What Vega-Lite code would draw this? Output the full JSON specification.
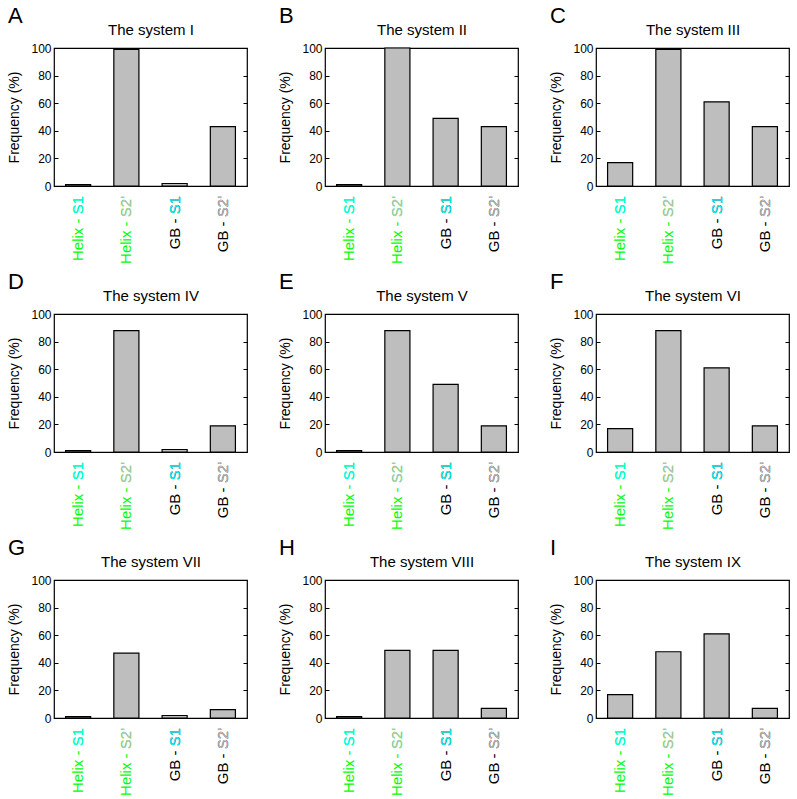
{
  "$schema": "https://vega.github.io/schema/vega-lite/v6.json",
  "padding": {"left": 7, "top": 4, "right": 0, "bottom": 0},
  "datasets": {
    "bars": [
      {"panel": "A", "cat": "Helix - S1", "grp": "Helix", "site": "S1", "value": 1},
      {"panel": "A", "cat": "Helix - S2'", "grp": "Helix", "site": "S2'", "value": 99},
      {"panel": "A", "cat": "GB - S1", "grp": "GB", "site": "S1", "value": 1.8},
      {"panel": "A", "cat": "GB - S2'", "grp": "GB", "site": "S2'", "value": 43},
      {"panel": "B", "cat": "Helix - S1", "grp": "Helix", "site": "S1", "value": 1},
      {"panel": "B", "cat": "Helix - S2'", "grp": "Helix", "site": "S2'", "value": 100},
      {"panel": "B", "cat": "GB - S1", "grp": "GB", "site": "S1", "value": 49},
      {"panel": "B", "cat": "GB - S2'", "grp": "GB", "site": "S2'", "value": 43},
      {"panel": "C", "cat": "Helix - S1", "grp": "Helix", "site": "S1", "value": 17},
      {"panel": "C", "cat": "Helix - S2'", "grp": "Helix", "site": "S2'", "value": 99},
      {"panel": "C", "cat": "GB - S1", "grp": "GB", "site": "S1", "value": 61},
      {"panel": "C", "cat": "GB - S2'", "grp": "GB", "site": "S2'", "value": 43},
      {"panel": "D", "cat": "Helix - S1", "grp": "Helix", "site": "S1", "value": 1},
      {"panel": "D", "cat": "Helix - S2'", "grp": "Helix", "site": "S2'", "value": 88},
      {"panel": "D", "cat": "GB - S1", "grp": "GB", "site": "S1", "value": 1.8},
      {"panel": "D", "cat": "GB - S2'", "grp": "GB", "site": "S2'", "value": 19},
      {"panel": "E", "cat": "Helix - S1", "grp": "Helix", "site": "S1", "value": 1},
      {"panel": "E", "cat": "Helix - S2'", "grp": "Helix", "site": "S2'", "value": 88},
      {"panel": "E", "cat": "GB - S1", "grp": "GB", "site": "S1", "value": 49},
      {"panel": "E", "cat": "GB - S2'", "grp": "GB", "site": "S2'", "value": 19},
      {"panel": "F", "cat": "Helix - S1", "grp": "Helix", "site": "S1", "value": 17},
      {"panel": "F", "cat": "Helix - S2'", "grp": "Helix", "site": "S2'", "value": 88},
      {"panel": "F", "cat": "GB - S1", "grp": "GB", "site": "S1", "value": 61},
      {"panel": "F", "cat": "GB - S2'", "grp": "GB", "site": "S2'", "value": 19},
      {"panel": "G", "cat": "Helix - S1", "grp": "Helix", "site": "S1", "value": 1},
      {"panel": "G", "cat": "Helix - S2'", "grp": "Helix", "site": "S2'", "value": 47},
      {"panel": "G", "cat": "GB - S1", "grp": "GB", "site": "S1", "value": 1.8},
      {"panel": "G", "cat": "GB - S2'", "grp": "GB", "site": "S2'", "value": 6},
      {"panel": "H", "cat": "Helix - S1", "grp": "Helix", "site": "S1", "value": 1},
      {"panel": "H", "cat": "Helix - S2'", "grp": "Helix", "site": "S2'", "value": 49},
      {"panel": "H", "cat": "GB - S1", "grp": "GB", "site": "S1", "value": 49},
      {"panel": "H", "cat": "GB - S2'", "grp": "GB", "site": "S2'", "value": 7},
      {"panel": "I", "cat": "Helix - S1", "grp": "Helix", "site": "S1", "value": 17},
      {"panel": "I", "cat": "Helix - S2'", "grp": "Helix", "site": "S2'", "value": 48},
      {"panel": "I", "cat": "GB - S1", "grp": "GB", "site": "S1", "value": 61},
      {"panel": "I", "cat": "GB - S2'", "grp": "GB", "site": "S2'", "value": 7}
    ]
  },
  "columns": 3,
  "spacing": {"row": 5, "column": 29},
  "concat": [
    {"title": "A", "width": 193, "height": 138, "data": {"name": "bars"}, "transform": [{"filter": "datum.panel == 'A'"}],
     "layer": [
      {"mark": {"type": "bar", "fill": "#bebebe", "stroke": "black", "strokeWidth": 1.2},
       "encoding": {"x": {"field": "cat", "type": "nominal", "sort": ["Helix - S1", "Helix - S2'", "GB - S1", "GB - S2'"], "scale": {"paddingInner": 0.48, "paddingOuter": 0.24}, "axis": {"orient": "top", "title": "The system I", "titleFontWeight": "normal", "labels": false, "ticks": false, "domain": false}},
                    "y": {"field": "value", "type": "quantitative", "scale": {"domain": [0, 100]}, "axis": {"title": "Frequency (%)", "values": [0, 20, 40, 60, 80, 100]}}}},
      {"mark": {"type": "text", "angle": 270, "align": "right", "baseline": "middle", "dx": -10, "fontSize": 15},
       "encoding": {"x": {"field": "cat", "type": "nominal", "sort": ["Helix - S1", "Helix - S2'", "GB - S1", "GB - S2'"], "axis": null}, "y": {"datum": 0, "axis": {"orient": "right", "labels": false, "title": null, "domain": false, "values": [0, 20, 40, 60, 80, 100]}}, "text": {"field": "cat"}, "color": {"field": "grp", "type": "nominal", "scale": {"domain": ["Helix", "GB", "S1", "S2'"], "range": ["#00ff00", "#000000", "#00ffff", "#bfbfbf"]}, "legend": null}}},
      {"mark": {"type": "text", "angle": 270, "align": "right", "baseline": "middle", "dx": -10, "fontSize": 15},
       "encoding": {"x": {"field": "cat", "type": "nominal", "sort": ["Helix - S1", "Helix - S2'", "GB - S1", "GB - S2'"], "axis": null}, "y": {"datum": 0, "axis": null}, "text": {"field": "site"}, "color": {"field": "site", "type": "nominal", "scale": {"domain": ["Helix", "GB", "S1", "S2'"], "range": ["#00ff00", "#000000", "#00ffff", "#bfbfbf"]}, "legend": null}}}
     ], "resolve": {"axis": {"x": "independent", "y": "independent"}}},
    {"title": "B", "width": 193, "height": 138, "data": {"name": "bars"}, "transform": [{"filter": "datum.panel == 'B'"}],
     "layer": [
      {"mark": {"type": "bar", "fill": "#bebebe", "stroke": "black", "strokeWidth": 1.2},
       "encoding": {"x": {"field": "cat", "type": "nominal", "sort": ["Helix - S1", "Helix - S2'", "GB - S1", "GB - S2'"], "scale": {"paddingInner": 0.48, "paddingOuter": 0.24}, "axis": {"orient": "top", "title": "The system II", "titleFontWeight": "normal", "labels": false, "ticks": false, "domain": false}},
                    "y": {"field": "value", "type": "quantitative", "scale": {"domain": [0, 100]}, "axis": {"title": "Frequency (%)", "values": [0, 20, 40, 60, 80, 100]}}}},
      {"mark": {"type": "text", "angle": 270, "align": "right", "baseline": "middle", "dx": -10, "fontSize": 15},
       "encoding": {"x": {"field": "cat", "type": "nominal", "sort": ["Helix - S1", "Helix - S2'", "GB - S1", "GB - S2'"], "axis": null}, "y": {"datum": 0, "axis": {"orient": "right", "labels": false, "title": null, "domain": false, "values": [0, 20, 40, 60, 80, 100]}}, "text": {"field": "cat"}, "color": {"field": "grp", "type": "nominal", "scale": {"domain": ["Helix", "GB", "S1", "S2'"], "range": ["#00ff00", "#000000", "#00ffff", "#bfbfbf"]}, "legend": null}}},
      {"mark": {"type": "text", "angle": 270, "align": "right", "baseline": "middle", "dx": -10, "fontSize": 15},
       "encoding": {"x": {"field": "cat", "type": "nominal", "sort": ["Helix - S1", "Helix - S2'", "GB - S1", "GB - S2'"], "axis": null}, "y": {"datum": 0, "axis": null}, "text": {"field": "site"}, "color": {"field": "site", "type": "nominal", "scale": {"domain": ["Helix", "GB", "S1", "S2'"], "range": ["#00ff00", "#000000", "#00ffff", "#bfbfbf"]}, "legend": null}}}
     ], "resolve": {"axis": {"x": "independent", "y": "independent"}}},
    {"title": "C", "width": 193, "height": 138, "data": {"name": "bars"}, "transform": [{"filter": "datum.panel == 'C'"}],
     "layer": [
      {"mark": {"type": "bar", "fill": "#bebebe", "stroke": "black", "strokeWidth": 1.2},
       "encoding": {"x": {"field": "cat", "type": "nominal", "sort": ["Helix - S1", "Helix - S2'", "GB - S1", "GB - S2'"], "scale": {"paddingInner": 0.48, "paddingOuter": 0.24}, "axis": {"orient": "top", "title": "The system III", "titleFontWeight": "normal", "labels": false, "ticks": false, "domain": false}},
                    "y": {"field": "value", "type": "quantitative", "scale": {"domain": [0, 100]}, "axis": {"title": "Frequency (%)", "values": [0, 20, 40, 60, 80, 100]}}}},
      {"mark": {"type": "text", "angle": 270, "align": "right", "baseline": "middle", "dx": -10, "fontSize": 15},
       "encoding": {"x": {"field": "cat", "type": "nominal", "sort": ["Helix - S1", "Helix - S2'", "GB - S1", "GB - S2'"], "axis": null}, "y": {"datum": 0, "axis": {"orient": "right", "labels": false, "title": null, "domain": false, "values": [0, 20, 40, 60, 80, 100]}}, "text": {"field": "cat"}, "color": {"field": "grp", "type": "nominal", "scale": {"domain": ["Helix", "GB", "S1", "S2'"], "range": ["#00ff00", "#000000", "#00ffff", "#bfbfbf"]}, "legend": null}}},
      {"mark": {"type": "text", "angle": 270, "align": "right", "baseline": "middle", "dx": -10, "fontSize": 15},
       "encoding": {"x": {"field": "cat", "type": "nominal", "sort": ["Helix - S1", "Helix - S2'", "GB - S1", "GB - S2'"], "axis": null}, "y": {"datum": 0, "axis": null}, "text": {"field": "site"}, "color": {"field": "site", "type": "nominal", "scale": {"domain": ["Helix", "GB", "S1", "S2'"], "range": ["#00ff00", "#000000", "#00ffff", "#bfbfbf"]}, "legend": null}}}
     ], "resolve": {"axis": {"x": "independent", "y": "independent"}}},
    {"title": "D", "width": 193, "height": 138, "data": {"name": "bars"}, "transform": [{"filter": "datum.panel == 'D'"}],
     "layer": [
      {"mark": {"type": "bar", "fill": "#bebebe", "stroke": "black", "strokeWidth": 1.2},
       "encoding": {"x": {"field": "cat", "type": "nominal", "sort": ["Helix - S1", "Helix - S2'", "GB - S1", "GB - S2'"], "scale": {"paddingInner": 0.48, "paddingOuter": 0.24}, "axis": {"orient": "top", "title": "The system IV", "titleFontWeight": "normal", "labels": false, "ticks": false, "domain": false}},
                    "y": {"field": "value", "type": "quantitative", "scale": {"domain": [0, 100]}, "axis": {"title": "Frequency (%)", "values": [0, 20, 40, 60, 80, 100]}}}},
      {"mark": {"type": "text", "angle": 270, "align": "right", "baseline": "middle", "dx": -10, "fontSize": 15},
       "encoding": {"x": {"field": "cat", "type": "nominal", "sort": ["Helix - S1", "Helix - S2'", "GB - S1", "GB - S2'"], "axis": null}, "y": {"datum": 0, "axis": {"orient": "right", "labels": false, "title": null, "domain": false, "values": [0, 20, 40, 60, 80, 100]}}, "text": {"field": "cat"}, "color": {"field": "grp", "type": "nominal", "scale": {"domain": ["Helix", "GB", "S1", "S2'"], "range": ["#00ff00", "#000000", "#00ffff", "#bfbfbf"]}, "legend": null}}},
      {"mark": {"type": "text", "angle": 270, "align": "right", "baseline": "middle", "dx": -10, "fontSize": 15},
       "encoding": {"x": {"field": "cat", "type": "nominal", "sort": ["Helix - S1", "Helix - S2'", "GB - S1", "GB - S2'"], "axis": null}, "y": {"datum": 0, "axis": null}, "text": {"field": "site"}, "color": {"field": "site", "type": "nominal", "scale": {"domain": ["Helix", "GB", "S1", "S2'"], "range": ["#00ff00", "#000000", "#00ffff", "#bfbfbf"]}, "legend": null}}}
     ], "resolve": {"axis": {"x": "independent", "y": "independent"}}},
    {"title": "E", "width": 193, "height": 138, "data": {"name": "bars"}, "transform": [{"filter": "datum.panel == 'E'"}],
     "layer": [
      {"mark": {"type": "bar", "fill": "#bebebe", "stroke": "black", "strokeWidth": 1.2},
       "encoding": {"x": {"field": "cat", "type": "nominal", "sort": ["Helix - S1", "Helix - S2'", "GB - S1", "GB - S2'"], "scale": {"paddingInner": 0.48, "paddingOuter": 0.24}, "axis": {"orient": "top", "title": "The system V", "titleFontWeight": "normal", "labels": false, "ticks": false, "domain": false}},
                    "y": {"field": "value", "type": "quantitative", "scale": {"domain": [0, 100]}, "axis": {"title": "Frequency (%)", "values": [0, 20, 40, 60, 80, 100]}}}},
      {"mark": {"type": "text", "angle": 270, "align": "right", "baseline": "middle", "dx": -10, "fontSize": 15},
       "encoding": {"x": {"field": "cat", "type": "nominal", "sort": ["Helix - S1", "Helix - S2'", "GB - S1", "GB - S2'"], "axis": null}, "y": {"datum": 0, "axis": {"orient": "right", "labels": false, "title": null, "domain": false, "values": [0, 20, 40, 60, 80, 100]}}, "text": {"field": "cat"}, "color": {"field": "grp", "type": "nominal", "scale": {"domain": ["Helix", "GB", "S1", "S2'"], "range": ["#00ff00", "#000000", "#00ffff", "#bfbfbf"]}, "legend": null}}},
      {"mark": {"type": "text", "angle": 270, "align": "right", "baseline": "middle", "dx": -10, "fontSize": 15},
       "encoding": {"x": {"field": "cat", "type": "nominal", "sort": ["Helix - S1", "Helix - S2'", "GB - S1", "GB - S2'"], "axis": null}, "y": {"datum": 0, "axis": null}, "text": {"field": "site"}, "color": {"field": "site", "type": "nominal", "scale": {"domain": ["Helix", "GB", "S1", "S2'"], "range": ["#00ff00", "#000000", "#00ffff", "#bfbfbf"]}, "legend": null}}}
     ], "resolve": {"axis": {"x": "independent", "y": "independent"}}},
    {"title": "F", "width": 193, "height": 138, "data": {"name": "bars"}, "transform": [{"filter": "datum.panel == 'F'"}],
     "layer": [
      {"mark": {"type": "bar", "fill": "#bebebe", "stroke": "black", "strokeWidth": 1.2},
       "encoding": {"x": {"field": "cat", "type": "nominal", "sort": ["Helix - S1", "Helix - S2'", "GB - S1", "GB - S2'"], "scale": {"paddingInner": 0.48, "paddingOuter": 0.24}, "axis": {"orient": "top", "title": "The system VI", "titleFontWeight": "normal", "labels": false, "ticks": false, "domain": false}},
                    "y": {"field": "value", "type": "quantitative", "scale": {"domain": [0, 100]}, "axis": {"title": "Frequency (%)", "values": [0, 20, 40, 60, 80, 100]}}}},
      {"mark": {"type": "text", "angle": 270, "align": "right", "baseline": "middle", "dx": -10, "fontSize": 15},
       "encoding": {"x": {"field": "cat", "type": "nominal", "sort": ["Helix - S1", "Helix - S2'", "GB - S1", "GB - S2'"], "axis": null}, "y": {"datum": 0, "axis": {"orient": "right", "labels": false, "title": null, "domain": false, "values": [0, 20, 40, 60, 80, 100]}}, "text": {"field": "cat"}, "color": {"field": "grp", "type": "nominal", "scale": {"domain": ["Helix", "GB", "S1", "S2'"], "range": ["#00ff00", "#000000", "#00ffff", "#bfbfbf"]}, "legend": null}}},
      {"mark": {"type": "text", "angle": 270, "align": "right", "baseline": "middle", "dx": -10, "fontSize": 15},
       "encoding": {"x": {"field": "cat", "type": "nominal", "sort": ["Helix - S1", "Helix - S2'", "GB - S1", "GB - S2'"], "axis": null}, "y": {"datum": 0, "axis": null}, "text": {"field": "site"}, "color": {"field": "site", "type": "nominal", "scale": {"domain": ["Helix", "GB", "S1", "S2'"], "range": ["#00ff00", "#000000", "#00ffff", "#bfbfbf"]}, "legend": null}}}
     ], "resolve": {"axis": {"x": "independent", "y": "independent"}}},
    {"title": "G", "width": 193, "height": 138, "data": {"name": "bars"}, "transform": [{"filter": "datum.panel == 'G'"}],
     "layer": [
      {"mark": {"type": "bar", "fill": "#bebebe", "stroke": "black", "strokeWidth": 1.2},
       "encoding": {"x": {"field": "cat", "type": "nominal", "sort": ["Helix - S1", "Helix - S2'", "GB - S1", "GB - S2'"], "scale": {"paddingInner": 0.48, "paddingOuter": 0.24}, "axis": {"orient": "top", "title": "The system VII", "titleFontWeight": "normal", "labels": false, "ticks": false, "domain": false}},
                    "y": {"field": "value", "type": "quantitative", "scale": {"domain": [0, 100]}, "axis": {"title": "Frequency (%)", "values": [0, 20, 40, 60, 80, 100]}}}},
      {"mark": {"type": "text", "angle": 270, "align": "right", "baseline": "middle", "dx": -10, "fontSize": 15},
       "encoding": {"x": {"field": "cat", "type": "nominal", "sort": ["Helix - S1", "Helix - S2'", "GB - S1", "GB - S2'"], "axis": null}, "y": {"datum": 0, "axis": {"orient": "right", "labels": false, "title": null, "domain": false, "values": [0, 20, 40, 60, 80, 100]}}, "text": {"field": "cat"}, "color": {"field": "grp", "type": "nominal", "scale": {"domain": ["Helix", "GB", "S1", "S2'"], "range": ["#00ff00", "#000000", "#00ffff", "#bfbfbf"]}, "legend": null}}},
      {"mark": {"type": "text", "angle": 270, "align": "right", "baseline": "middle", "dx": -10, "fontSize": 15},
       "encoding": {"x": {"field": "cat", "type": "nominal", "sort": ["Helix - S1", "Helix - S2'", "GB - S1", "GB - S2'"], "axis": null}, "y": {"datum": 0, "axis": null}, "text": {"field": "site"}, "color": {"field": "site", "type": "nominal", "scale": {"domain": ["Helix", "GB", "S1", "S2'"], "range": ["#00ff00", "#000000", "#00ffff", "#bfbfbf"]}, "legend": null}}}
     ], "resolve": {"axis": {"x": "independent", "y": "independent"}}},
    {"title": "H", "width": 193, "height": 138, "data": {"name": "bars"}, "transform": [{"filter": "datum.panel == 'H'"}],
     "layer": [
      {"mark": {"type": "bar", "fill": "#bebebe", "stroke": "black", "strokeWidth": 1.2},
       "encoding": {"x": {"field": "cat", "type": "nominal", "sort": ["Helix - S1", "Helix - S2'", "GB - S1", "GB - S2'"], "scale": {"paddingInner": 0.48, "paddingOuter": 0.24}, "axis": {"orient": "top", "title": "The system VIII", "titleFontWeight": "normal", "labels": false, "ticks": false, "domain": false}},
                    "y": {"field": "value", "type": "quantitative", "scale": {"domain": [0, 100]}, "axis": {"title": "Frequency (%)", "values": [0, 20, 40, 60, 80, 100]}}}},
      {"mark": {"type": "text", "angle": 270, "align": "right", "baseline": "middle", "dx": -10, "fontSize": 15},
       "encoding": {"x": {"field": "cat", "type": "nominal", "sort": ["Helix - S1", "Helix - S2'", "GB - S1", "GB - S2'"], "axis": null}, "y": {"datum": 0, "axis": {"orient": "right", "labels": false, "title": null, "domain": false, "values": [0, 20, 40, 60, 80, 100]}}, "text": {"field": "cat"}, "color": {"field": "grp", "type": "nominal", "scale": {"domain": ["Helix", "GB", "S1", "S2'"], "range": ["#00ff00", "#000000", "#00ffff", "#bfbfbf"]}, "legend": null}}},
      {"mark": {"type": "text", "angle": 270, "align": "right", "baseline": "middle", "dx": -10, "fontSize": 15},
       "encoding": {"x": {"field": "cat", "type": "nominal", "sort": ["Helix - S1", "Helix - S2'", "GB - S1", "GB - S2'"], "axis": null}, "y": {"datum": 0, "axis": null}, "text": {"field": "site"}, "color": {"field": "site", "type": "nominal", "scale": {"domain": ["Helix", "GB", "S1", "S2'"], "range": ["#00ff00", "#000000", "#00ffff", "#bfbfbf"]}, "legend": null}}}
     ], "resolve": {"axis": {"x": "independent", "y": "independent"}}},
    {"title": "I", "width": 193, "height": 138, "data": {"name": "bars"}, "transform": [{"filter": "datum.panel == 'I'"}],
     "layer": [
      {"mark": {"type": "bar", "fill": "#bebebe", "stroke": "black", "strokeWidth": 1.2},
       "encoding": {"x": {"field": "cat", "type": "nominal", "sort": ["Helix - S1", "Helix - S2'", "GB - S1", "GB - S2'"], "scale": {"paddingInner": 0.48, "paddingOuter": 0.24}, "axis": {"orient": "top", "title": "The system IX", "titleFontWeight": "normal", "labels": false, "ticks": false, "domain": false}},
                    "y": {"field": "value", "type": "quantitative", "scale": {"domain": [0, 100]}, "axis": {"title": "Frequency (%)", "values": [0, 20, 40, 60, 80, 100]}}}},
      {"mark": {"type": "text", "angle": 270, "align": "right", "baseline": "middle", "dx": -10, "fontSize": 15},
       "encoding": {"x": {"field": "cat", "type": "nominal", "sort": ["Helix - S1", "Helix - S2'", "GB - S1", "GB - S2'"], "axis": null}, "y": {"datum": 0, "axis": {"orient": "right", "labels": false, "title": null, "domain": false, "values": [0, 20, 40, 60, 80, 100]}}, "text": {"field": "cat"}, "color": {"field": "grp", "type": "nominal", "scale": {"domain": ["Helix", "GB", "S1", "S2'"], "range": ["#00ff00", "#000000", "#00ffff", "#bfbfbf"]}, "legend": null}}},
      {"mark": {"type": "text", "angle": 270, "align": "right", "baseline": "middle", "dx": -10, "fontSize": 15},
       "encoding": {"x": {"field": "cat", "type": "nominal", "sort": ["Helix - S1", "Helix - S2'", "GB - S1", "GB - S2'"], "axis": null}, "y": {"datum": 0, "axis": null}, "text": {"field": "site"}, "color": {"field": "site", "type": "nominal", "scale": {"domain": ["Helix", "GB", "S1", "S2'"], "range": ["#00ff00", "#000000", "#00ffff", "#bfbfbf"]}, "legend": null}}}
     ], "resolve": {"axis": {"x": "independent", "y": "independent"}}}
  ],
  "config": {
    "font": "Liberation Sans",
    "background": "white",
    "view": {"stroke": "black", "strokeWidth": 1.2},
    "title": {"fontSize": 22, "fontWeight": "normal", "anchor": "start", "frame": "bounds", "offset": -6, "color": "black"},
    "axis": {"grid": false, "domain": false, "labelFontSize": 12, "labelColor": "black", "titleColor": "black", "titleFontWeight": "normal", "tickColor": "black", "tickSize": -4, "tickWidth": 1, "labelPadding": 7},
    "axisY": {"titleFontSize": 14, "titlePadding": 9},
    "axisTop": {"titleFontSize": 15, "titlePadding": 11, "titleFontWeight": "normal"}
  }
}
